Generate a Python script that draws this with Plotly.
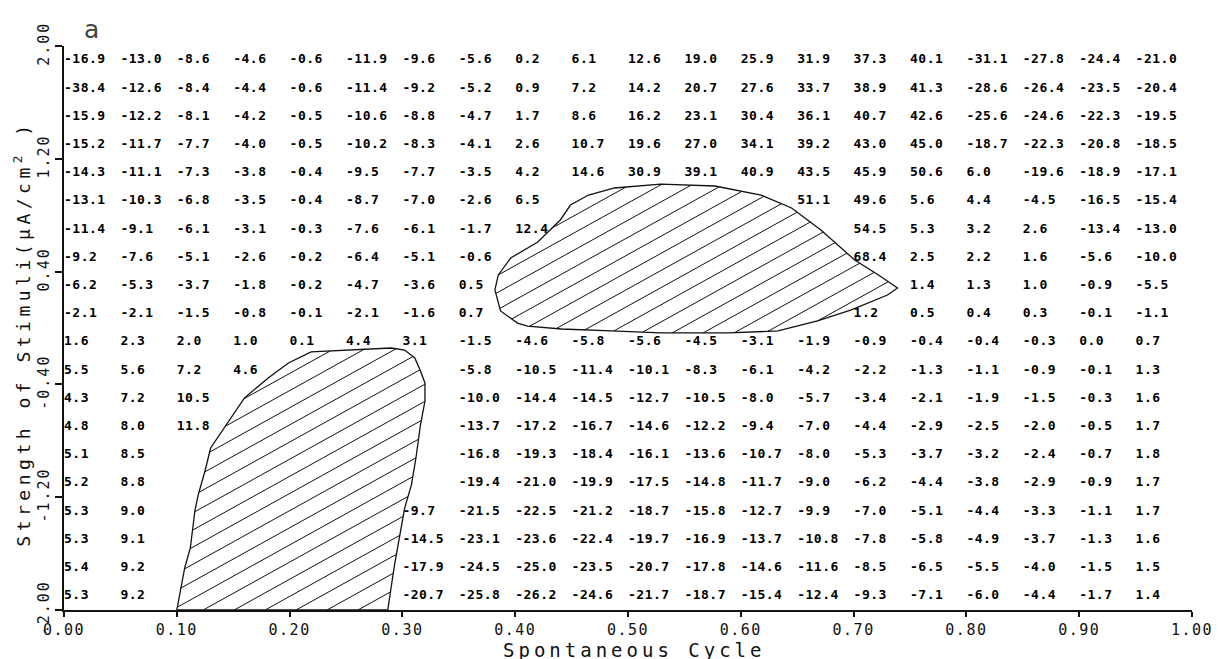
import math
import plotly.graph_objects as go

# ---------------- data ----------------
col_x = [0.00, 0.05, 0.10, 0.15, 0.20, 0.25, 0.30, 0.35, 0.40, 0.45,
         0.50, 0.55, 0.60, 0.65, 0.70, 0.75, 0.80, 0.85, 0.90, 0.95]
row_y = [1.9, 1.7, 1.5, 1.3, 1.1, 0.9, 0.7, 0.5, 0.3, 0.1,
         -0.1, -0.3, -0.5, -0.7, -0.9, -1.1, -1.3, -1.5, -1.7, -1.9]
N = None
r00 = [-16.9, -13.0, -8.6, -4.6, -0.6, -11.9, -9.6, -5.6, 0.2, 6.1, 12.6, 19.0, 25.9, 31.9, 37.3, 40.1, -31.1, -27.8, -24.4, -21.0]
r01 = [-38.4, -12.6, -8.4, -4.4, -0.6, -11.4, -9.2, -5.2, 0.9, 7.2, 14.2, 20.7, 27.6, 33.7, 38.9, 41.3, -28.6, -26.4, -23.5, -20.4]
r02 = [-15.9, -12.2, -8.1, -4.2, -0.5, -10.6, -8.8, -4.7, 1.7, 8.6, 16.2, 23.1, 30.4, 36.1, 40.7, 42.6, -25.6, -24.6, -22.3, -19.5]
r03 = [-15.2, -11.7, -7.7, -4.0, -0.5, -10.2, -8.3, -4.1, 2.6, 10.7, 19.6, 27.0, 34.1, 39.2, 43.0, 45.0, -18.7, -22.3, -20.8, -18.5]
r04 = [-14.3, -11.1, -7.3, -3.8, -0.4, -9.5, -7.7, -3.5, 4.2, 14.6, 30.9, 39.1, 40.9, 43.5, 45.9, 50.6, 6.0, -19.6, -18.9, -17.1]
r05 = [-13.1, -10.3, -6.8, -3.5, -0.4, -8.7, -7.0, -2.6, 6.5, N, N, N, N, 51.1, 49.6, 5.6, 4.4, -4.5, -16.5, -15.4]
r06 = [-11.4, -9.1, -6.1, -3.1, -0.3, -7.6, -6.1, -1.7, 12.4, N, N, N, N, N, 54.5, 5.3, 3.2, 2.6, -13.4, -13.0]
r07 = [-9.2, -7.6, -5.1, -2.6, -0.2, -6.4, -5.1, -0.6, N, N, N, N, N, N, 68.4, 2.5, 2.2, 1.6, -5.6, -10.0]
r08 = [-6.2, -5.3, -3.7, -1.8, -0.2, -4.7, -3.6, 0.5, N, N, N, N, N, N, N, 1.4, 1.3, 1.0, -0.9, -5.5]
r09 = [-2.1, -2.1, -1.5, -0.8, -0.1, -2.1, -1.6, 0.7, N, N, N, N, N, N, 1.2, 0.5, 0.4, 0.3, -0.1, -1.1]
r10 = [1.6, 2.3, 2.0, 1.0, 0.1, 4.4, 3.1, -1.5, -4.6, -5.8, -5.6, -4.5, -3.1, -1.9, -0.9, -0.4, -0.4, -0.3, 0.0, 0.7]
r11 = [5.5, 5.6, 7.2, 4.6, N, N, N, -5.8, -10.5, -11.4, -10.1, -8.3, -6.1, -4.2, -2.2, -1.3, -1.1, -0.9, -0.1, 1.3]
r12 = [4.3, 7.2, 10.5, N, N, N, N, -10.0, -14.4, -14.5, -12.7, -10.5, -8.0, -5.7, -3.4, -2.1, -1.9, -1.5, -0.3, 1.6]
r13 = [4.8, 8.0, 11.8, N, N, N, N, -13.7, -17.2, -16.7, -14.6, -12.2, -9.4, -7.0, -4.4, -2.9, -2.5, -2.0, -0.5, 1.7]
r14 = [5.1, 8.5, N, N, N, N, N, -16.8, -19.3, -18.4, -16.1, -13.6, -10.7, -8.0, -5.3, -3.7, -3.2, -2.4, -0.7, 1.8]
r15 = [5.2, 8.8, N, N, N, N, N, -19.4, -21.0, -19.9, -17.5, -14.8, -11.7, -9.0, -6.2, -4.4, -3.8, -2.9, -0.9, 1.7]
r16 = [5.3, 9.0, N, N, N, N, -9.7, -21.5, -22.5, -21.2, -18.7, -15.8, -12.7, -9.9, -7.0, -5.1, -4.4, -3.3, -1.1, 1.7]
r17 = [5.3, 9.1, N, N, N, N, -14.5, -23.1, -23.6, -22.4, -19.7, -16.9, -13.7, -10.8, -7.8, -5.8, -4.9, -3.7, -1.3, 1.6]
r18 = [5.4, 9.2, N, N, N, N, -17.9, -24.5, -25.0, -23.5, -20.7, -17.8, -14.6, -11.6, -8.5, -6.5, -5.5, -4.0, -1.5, 1.5]
r19 = [5.3, 9.2, N, N, N, N, -20.7, -25.8, -26.2, -24.6, -21.7, -18.7, -15.4, -12.4, -9.3, -7.1, -6.0, -4.4, -1.7, 1.4]
rows = [r00, r01, r02, r03, r04, r05, r06, r07, r08, r09,
        r10, r11, r12, r13, r14, r15, r16, r17, r18, r19]

# outline of the upper hatched region
upper_x = [0.382, 0.385, 0.396, 0.420, 0.440, 0.449, 0.465, 0.488, 0.529, 0.577,
           0.618, 0.645, 0.671, 0.701, 0.722, 0.739, 0.730, 0.698, 0.668, 0.633,
           0.589, 0.529, 0.485, 0.441, 0.411, 0.402, 0.387]
upper_y = [0.270, 0.376, 0.496, 0.610, 0.766, 0.872, 0.943, 0.993, 1.021, 1.007,
           0.943, 0.851, 0.695, 0.482, 0.376, 0.284, 0.234, 0.128, 0.050, -0.021,
           -0.035, -0.035, -0.021, -0.007, 0.014, 0.035, 0.121]
# outline of the lower hatched region
lower_x = [0.100, 0.107, 0.112, 0.116, 0.119, 0.125, 0.130, 0.143, 0.160, 0.181,
           0.199, 0.219, 0.249, 0.290, 0.302, 0.311, 0.316, 0.320, 0.320, 0.316,
           0.312, 0.308, 0.302, 0.298, 0.293, 0.287]
lower_y = [-2.000, -1.702, -1.560, -1.298, -1.184, -1.014, -0.851, -0.695, -0.496, -0.355,
           -0.248, -0.170, -0.156, -0.142, -0.156, -0.213, -0.305, -0.390, -0.518, -0.688,
           -0.922, -1.113, -1.277, -1.468, -1.681, -2.000]

x_ticks = [0.0, 0.1, 0.2, 0.3, 0.4, 0.5, 0.6, 0.7, 0.8, 0.9, 1.0]
x_tick_text = ["0.00", "0.10", "0.20", "0.30", "0.40", "0.50", "0.60", "0.70", "0.80", "0.90", "1.00"]
y_ticks = [2.0, 1.2, 0.4, -0.4, -1.2, -2.0]
y_tick_text = ["2.00", "1.20", "0.40", "-0.40", "-1.20", "-2.00"]

# ---------------- layout geometry ----------------
W, H = 1228, 659
ML, MR, MT, MB = 56, 44, 38, 57
PW, PH = W - ML - MR, H - MT - MB
XR = (0.0, 1.0)
YR = (-2.0, 2.0)


def to_px(x, y):
    return ((x - XR[0]) / (XR[1] - XR[0]) * PW, (y - YR[0]) / (YR[1] - YR[0]) * PH)


def from_px(u, v):
    return (XR[0] + u / PW * (XR[1] - XR[0]), YR[0] + v / PH * (YR[1] - YR[0]))


def hatch(xs, ys, spacing=15.0, angle_deg=29.0):
    pts = [to_px(x, y) for x, y in zip(xs, ys)]
    a = math.radians(angle_deg)
    d = (math.cos(a), math.sin(a))
    n = (-math.sin(a), math.cos(a))
    proj = [p[0] * n[0] + p[1] * n[1] for p in pts]
    s = math.floor(min(proj) / spacing) * spacing + spacing * 0.5
    hx, hy = [], []
    m = len(pts)
    while s < max(proj):
        qs = []
        for i in range(m):
            A, B = pts[i], pts[(i + 1) % m]
            sa = A[0] * n[0] + A[1] * n[1] - s
            sb = B[0] * n[0] + B[1] * n[1] - s
            if (sa > 0) != (sb > 0):
                t = sa / (sa - sb)
                P = (A[0] + t * (B[0] - A[0]), A[1] + t * (B[1] - A[1]))
                qs.append(P[0] * d[0] + P[1] * d[1])
        qs.sort()
        for j in range(0, len(qs) - 1, 2):
            for q in (qs[j], qs[j + 1]):
                u = s * n[0] + q * d[0]
                v = s * n[1] + q * d[1]
                x, y = from_px(u, v)
                hx.append(x)
                hy.append(y)
            hx.append(None)
            hy.append(None)
        s += spacing
    return hx, hy


def spaced(txt, px):
    return '<span style="letter-spacing:%spx">%s</span>' % (px, txt)


fig = go.Figure()

# numbers
tx, ty, tt = [], [], []
for yv, row in zip(row_y, rows):
    for xv, val in zip(col_x, row):
        if val is None:
            continue
        tx.append(xv)
        ty.append(yv)
        tt.append(spaced("%.1f" % val, 0.5))

fig.add_trace(go.Scatter(
    x=tx, y=ty, text=tt, mode="text", textposition="middle right",
    textfont=dict(family="DejaVu Sans Mono", size=13, color="black", weight="bold"),
    hoverinfo="skip", cliponaxis=False, showlegend=False))

# hatched regions
for xs, ys in ((upper_x, upper_y), (lower_x, lower_y)):
    hx, hy = hatch(xs, ys)
    fig.add_trace(go.Scatter(x=hx, y=hy, mode="lines",
                             line=dict(color="#111", width=1),
                             hoverinfo="skip", showlegend=False, cliponaxis=False))
    fig.add_trace(go.Scatter(x=list(xs) + [xs[0]], y=list(ys) + [ys[0]], mode="lines",
                             line=dict(color="#111", width=1.3),
                             hoverinfo="skip", showlegend=False, cliponaxis=False))

axis_font = dict(family="DejaVu Sans Mono", size=15, color="#111")
fig.update_layout(
    width=W, height=H,
    margin=dict(l=ML, r=MR, t=MT, b=MB, pad=0),
    paper_bgcolor="white", plot_bgcolor="white",
    showlegend=False,
    xaxis=dict(range=list(XR), tickvals=x_ticks,
               ticktext=[spaced(t, 1.5) for t in x_tick_text],
               showgrid=False, zeroline=False, showline=True, linecolor="#111",
               linewidth=1.5, ticks="outside", ticklen=5, tickwidth=1.5,
               tickcolor="#111", tickfont=axis_font),
    yaxis=dict(range=list(YR), tickvals=y_ticks,
               ticktext=[spaced(t, 2) for t in y_tick_text],
               showgrid=False, zeroline=False, showline=True, linecolor="#111",
               linewidth=1.5, ticks="outside", ticklen=7, tickwidth=1.5,
               tickcolor="#111", tickfont=axis_font, tickangle=-90),
    annotations=[
        dict(text=spaced("Spontaneous Cycle", 4),
             xref="paper", yref="paper", x=0.505, y=0, yshift=-40,
             xanchor="center", yanchor="middle", showarrow=False,
             font=dict(family="DejaVu Sans Mono", size=19, color="#111")),
        dict(text=spaced("Strength of Stimuli(\u03bcA/cm<sup>2</sup> )", 4.5),
             xref="paper", yref="paper", x=0, y=0.49, xshift=-42,
             xanchor="center", yanchor="middle", textangle=-90, showarrow=False,
             font=dict(family="DejaVu Sans Mono", size=18, color="#111")),
        dict(text="a", xref="paper", yref="paper", x=0.024, y=1.03,
             xanchor="center", yanchor="middle", showarrow=False,
             font=dict(family="DejaVu Sans", size=25, color="#444")),
    ],
)

fig.write_html("out.html")
